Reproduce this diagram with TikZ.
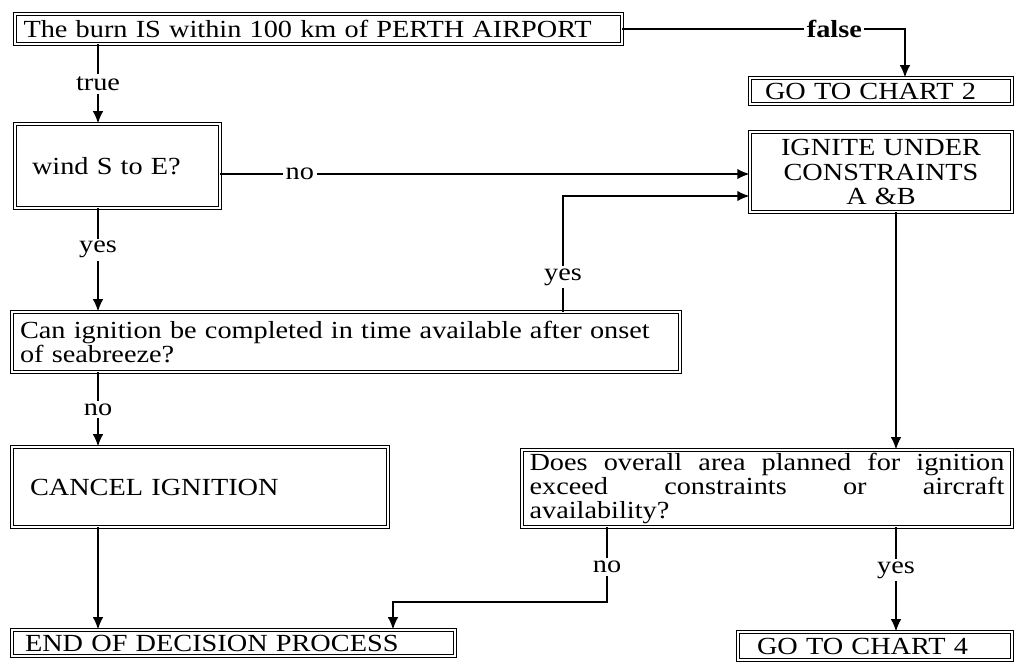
\documentclass[tikz,border=0pt]{standalone}
\usepackage{fontspec}
\setmainfont[FakeStretch=1.15]{Liberation Serif}
\usetikzlibrary{arrows.meta}
\hyphenpenalty=10000

\tikzset{
  box/.style={draw, double, double distance=1.4pt, line width=0.55pt, inner sep=0pt,
    align=left, font=\fontsize{14}{13.8}\selectfont},
  lbl/.style={fill=white, inner sep=1.5pt, font=\fontsize{14}{14}\selectfont},
  flow/.style={line width=1pt, -{Latex[length=7pt,width=6pt]}},
}

\begin{document}
\begin{tikzpicture}[x=0.02cm, y=-0.02cm]
    \useasboundingbox (0,0) rectangle (1017,664);

    % boxes
    \node[box, minimum width=12.14cm, minimum height=0.6cm, text width=11.8cm] (top) at (318.5,29)
      {The burn IS within 100 km of PERTH AIRPORT};
    \node[box, minimum width=5.24cm, minimum height=0.52cm, text width=4.64cm] (chart2) at (881,91)
      {GO TO CHART 2};
    \node[box, minimum width=4.1cm, minimum height=1.68cm, text width=3.42cm] (wind) at (117.5,166)
      {wind S to E?};
    \node[box, minimum width=5.24cm, minimum height=1.6cm, text width=5cm, align=center] (ignite) at (881,172)
      {IGNITE UNDER\\CONSTRAINTS\\A \&B};
    \node[box, minimum width=13.36cm, minimum height=1.2cm, text width=13.04cm] (can) at (346,342)
      {Can ignition be completed in time available after onset\\of seabreeze?};
    \node[box, minimum width=7.52cm, minimum height=1.6cm, text width=6.8cm] (cancel) at (200,487)
      {CANCEL IGNITION};
    \node[box, minimum width=9.8cm, minimum height=1.54cm, text width=9.5cm] (does) at (767,488.5)
      {Does\hfill overall\hfill area\hfill planned\hfill for\hfill ignition\\
       exceed\hfill constraints\hfill or\hfill aircraft\\availability?};
    \node[box, minimum width=8.86cm, minimum height=0.52cm, text width=8.34cm] (end) at (233.5,643)
      {END OF DECISION PROCESS};
    \node[box, minimum width=5.48cm, minimum height=0.56cm, text width=4.72cm] (chart4) at (875,646)
      {GO TO CHART 4};

    \coordinate (lx) at (98,0);
    \coordinate (fx) at (905,0);
    \coordinate (nr) at (748,174);
    \coordinate (yx) at (563,196);
    \coordinate (rx) at (896,0);
    \coordinate (nx) at (607,602);
    \coordinate (ex) at (393,602);

    % connectors
    \draw[flow] (top.south -| lx) -- node[lbl] {true} (wind.north -| lx);
    \draw[flow] (top.east) -- node[lbl, pos=0.75, font=\fontsize{14}{14}\selectfont\bfseries] {false}
      (top.east -| fx) -- (chart2.north -| fx);
    \draw[flow] (wind.east |- nr) -- node[lbl, pos=0.15] {no} (ignite.west |- nr);
    \draw[flow] (wind.south -| lx) -- node[lbl, pos=0.4] {yes} (can.north -| lx);
    \draw[flow] (can.north -| yx) -- node[lbl, pos=0.3] {yes} (yx) -- (ignite.west |- yx);
    \draw[flow] (can.south -| lx) -- node[lbl] {no} (cancel.north -| lx);
    \draw[flow] (cancel.south -| lx) -- (end.north -| lx);
    \draw[flow] (ignite.south -| rx) -- (does.north -| rx);
    \draw[flow] (does.south -| nx) -- node[lbl, pos=0.53] {no} (nx) -- (ex) -- (end.north -| ex);
    \draw[flow] (does.south -| rx) -- node[lbl, pos=0.41] {yes} (chart4.north -| rx);
\end{tikzpicture}
\end{document}
